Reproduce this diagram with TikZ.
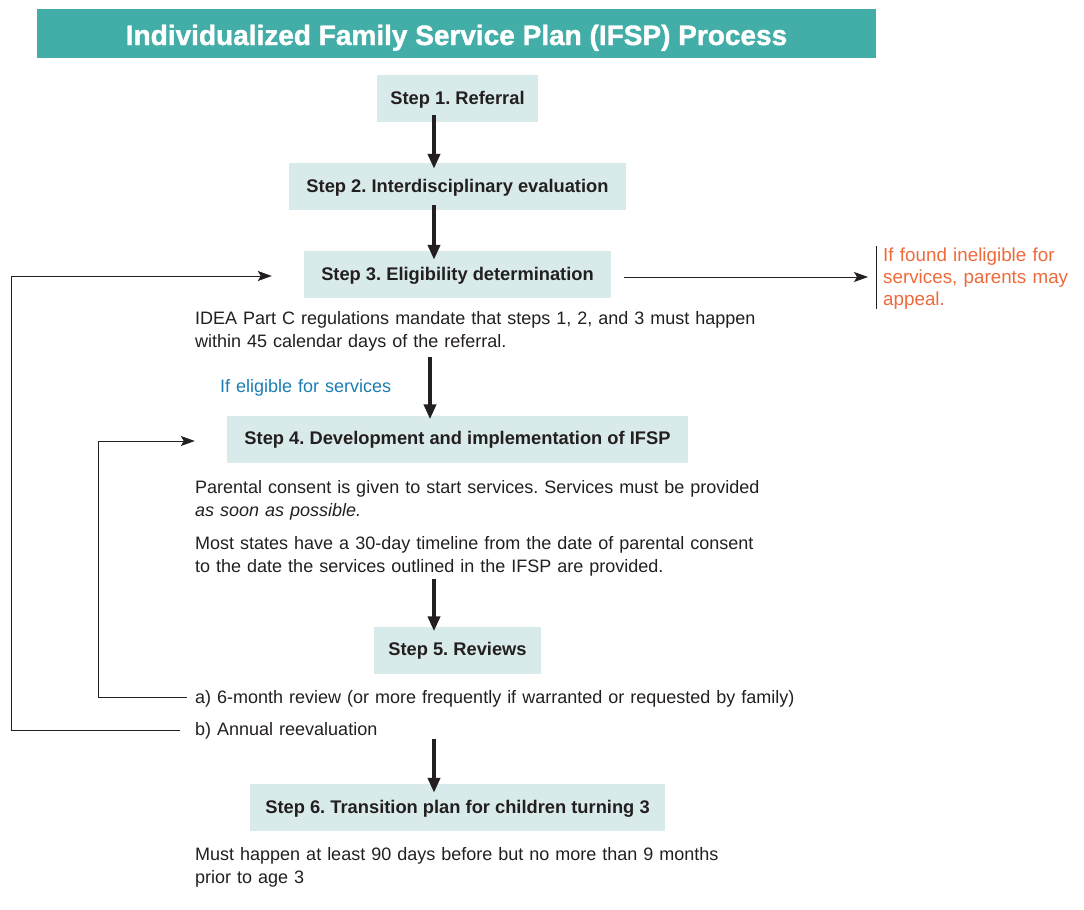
\documentclass[tikz,border=0pt]{standalone}
\usepackage{fontspec}
\setmainfont{Liberation Sans}
\newfontfamily\titlefont{Liberation Sans Bold}[FakeBold=1.4]
\usetikzlibrary{arrows.meta,calc}
\frenchspacing
\definecolor{teal}{HTML}{43ADA7}
\definecolor{boxfill}{HTML}{D8EBEA}
\definecolor{ink}{HTML}{231F20}
\definecolor{orangetxt}{HTML}{EE6A3A}
\definecolor{bluetxt}{HTML}{1B7DB3}
\tikzset{
  stepbox/.style={fill=boxfill, text=ink, inner sep=0pt, minimum height=47pt,
    text height=13pt, text depth=2pt, font=\bfseries\fontsize{18.3}{22}\selectfont},
  bodytext/.style={anchor=base west, inner sep=0pt, text=ink, align=left,
    text width=#1, font=\fontsize{18}{23}\selectfont},
  bodytext/.default=620pt,
  thickarrow/.style={draw=ink, line width=4pt, -{Triangle[length=15pt,width=12pt]}},
  thinarrow/.style={draw=ink, line width=1pt, -{Stealth[length=14pt,width=10pt,inset=3pt]}},
  thinline/.style={draw=ink, line width=1pt}
}
\begin{document}
\begin{tikzpicture}[x=1pt,y=-1pt]
\useasboundingbox (0,0) rectangle (1084,910);
% title
\node[fill=teal, text=white, minimum width=839pt, minimum height=49pt, inner sep=0pt,
  text height=24pt, text depth=1pt, font=\titlefont\fontsize{28}{30}\selectfont]
  (title) at (456.5,33.5) {Individualized Family Service Plan (IFSP) Process};
% steps
\node[stepbox, minimum width=161pt] (s1) at (457.5,98.5) {Step 1. Referral};
\node[stepbox, minimum width=337pt] (s2) at (457.5,186.5) {Step 2. Interdisciplinary evaluation};
\node[stepbox, minimum width=307pt] (s3) at (457.5,274.5) {Step 3. Eligibility determination};
\node[stepbox, minimum width=461pt] (s4) at (457.5,439) {Step 4. Development and implementation of IFSP};
\node[stepbox, minimum width=167pt] (s5) at (457.5,650) {Step 5. Reviews};
\node[stepbox, minimum width=415pt] (s6) at (457.5,807.5) {Step 6. Transition plan for children turning 3};
% texts
\node[bodytext] (idea) at (195,324) {IDEA Part C regulations mandate that steps 1, 2, and 3 must happen\\within 45 calendar days of the referral.};
\node[bodytext, text=bluetxt] (elig) at (220,392) {If eligible for services};
\node[bodytext] (consent) at (195,493) {Parental consent is given to start services. Services must be provided\\\textit{as soon as possible.}};
\node[bodytext] (most) at (195,549) {Most states have a 30-day timeline from the date of parental consent\\to the date the services outlined in the IFSP are provided.};
\node[bodytext] (ta) at (195,703) {a) 6-month review (or more frequently if warranted or requested by family)};
\node[bodytext] (tb) at (195,735) {b) Annual reevaluation};
\node[bodytext] (must) at (195,860) {Must happen at least 90 days before but no more than 9 months\\prior to age 3};
\node[bodytext=200pt, text=orangetxt, font=\fontsize{18.8}{22}\selectfont] (inel) at (883,261) {If found ineligible for\\services, parents may\\appeal.};
% coordinates
\coordinate (ax) at (434,0);
\coordinate (axb) at (430,0);
\coordinate (bartop) at (876,246);
\coordinate (barbot) at (876,309);
\coordinate (outerx) at (11,0);
\coordinate (innerx) at (98,0);
% main arrows
\draw[thickarrow] ($(s1.south -| ax)+(0,-7)$) -- ($(s2.north -| ax)+(0,6)$);
\draw[thickarrow] ($(s2.south -| ax)+(0,-5)$) -- ($(s3.north -| ax)+(0,9)$);
\draw[thickarrow] ($(s3.south -| axb)+(0,59)$) -- ($(s4.north -| axb)+(0,4)$);
\draw[thickarrow] ($(s4.south -| ax)+(0,116)$) -- ($(s5.north -| ax)+(0,5)$);
\draw[thickarrow] ($(s5.south -| ax)+(0,65)$) -- ($(s6.north -| ax)+(0,9)$);
% ineligible
\draw[thinline] (bartop) -- (barbot);
\draw[thinarrow] ($(s3.east)+(13,2.5)$) -- ($(s3.east -| bartop)+(-8,2.5)$);
% loops
\draw[thinarrow] ($(tb.base west)+(-15,-5)$) -| ($(s3.west -| outerx)+(0,1.5)$) -- ($(s3.west)+(-32,1.5)$);
\draw[thinarrow] ($(ta.base west)+(-8,-6)$) -| ($(s4.west -| innerx)+(0,2)$) -- ($(s4.west)+(-32,2)$);
\end{tikzpicture}
\end{document}
